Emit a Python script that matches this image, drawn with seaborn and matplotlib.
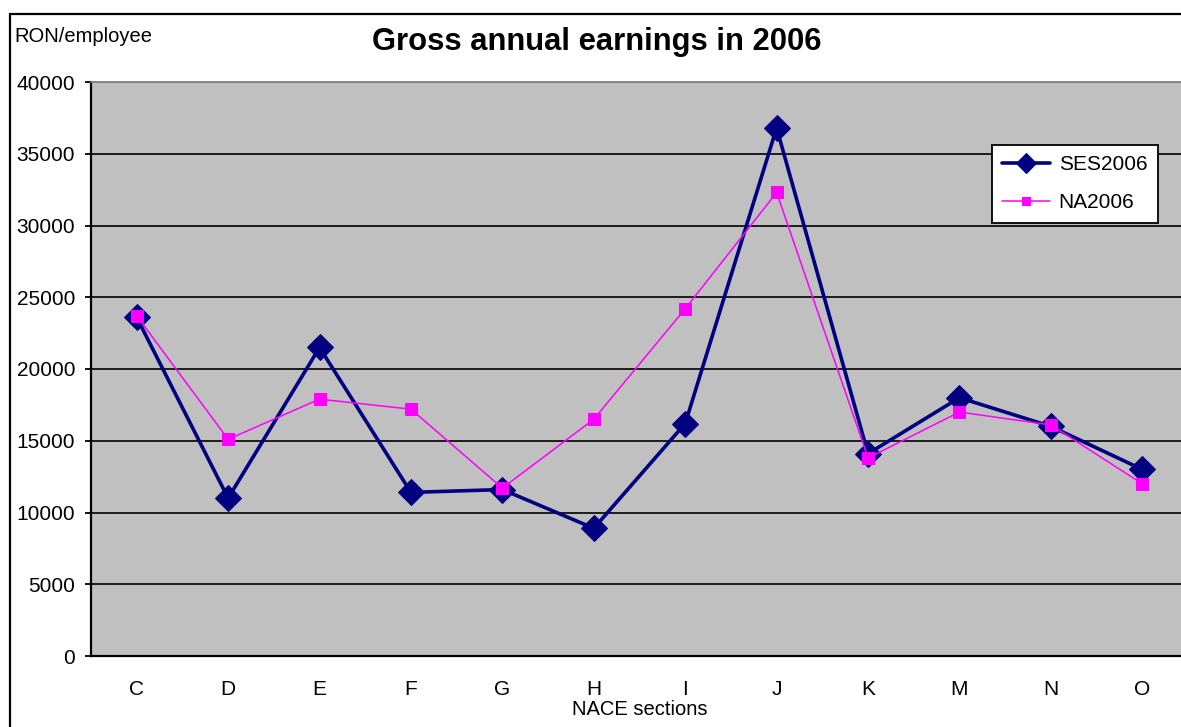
import pandas as pd
import matplotlib
matplotlib.use("Agg")
import matplotlib.pyplot as plt
import seaborn as sns
from matplotlib.patches import Rectangle

sections = ["C", "D", "E", "F", "G", "H", "I", "J", "K", "M", "N", "O"]
ses2006 = [23600, 11000, 21500, 11400, 11600, 8900, 16200, 36800, 14100, 18000, 16000, 13000]
na2006 = [23700, 15100, 17900, 17200, 11700, 16500, 24200, 32300, 13800, 17000, 16100, 12000]
y_ticks = [0, 5000, 10000, 15000, 20000, 25000, 30000, 35000, 40000]

sns.set_style("white")
plt.rcParams["font.family"] = ["Liberation Sans", "DejaVu Sans"]
plt.rcParams["text.color"] = "black"
plt.rcParams["xtick.color"] = "black"
plt.rcParams["ytick.color"] = "black"
plt.rcParams["axes.labelcolor"] = "black"

df = pd.DataFrame({"pos": range(len(sections)), "section": sections,
                   "SES2006": ses2006, "NA2006": na2006})

W, H = 1181, 727
fig = plt.figure(figsize=(W / 100, H / 100), dpi=100)
fig.patch.set_facecolor("white")

ax = fig.add_axes([91 / W, 1 - 656 / H, (1188 - 91) / W, (656 - 82) / H])
ax.set_facecolor("#C0C0C0")

sns.lineplot(data=df, x="pos", y="SES2006", ax=ax, color="#000080", linewidth=2.6,
             marker="D", markersize=13, markeredgecolor="#000080", sort=False,
             label="SES2006")
sns.lineplot(data=df, x="pos", y="NA2006", ax=ax, color="#FF00FF", linewidth=1.1,
             marker="s", markersize=8, markeredgecolor="#FF00FF", sort=False,
             label="NA2006")

ax.set_xlim(-0.5, len(sections) - 0.5)
ax.set_ylim(0, 40000)
ax.set_yticks(y_ticks)
ax.set_yticklabels([str(v) for v in y_ticks], fontsize=15)
ax.set_xticks(range(len(sections)))
ax.set_xticklabels(sections, fontsize=15)
ax.set_xticks([i - 0.5 for i in range(len(sections) + 1)], minor=True)
ax.tick_params(axis="x", which="major", length=0, pad=17)
ax.tick_params(axis="x", which="minor", length=4.5, width=1.3, direction="out", color="black")
ax.tick_params(axis="y", which="major", length=4.5, width=1.3, direction="out", color="black", pad=7, left=True)

ax.yaxis.grid(True, color="black", linewidth=1.2)
ax.set_axisbelow(True)
ax.get_ygridlines()[-1].set_color("#808080")

for side in ["left", "bottom"]:
    ax.spines[side].set_color("black")
    ax.spines[side].set_linewidth(1.6)
ax.spines["top"].set_color("#808080")
ax.spines["top"].set_linewidth(1.3)
ax.spines["right"].set_visible(False)

ax.set_ylabel("")
ax.set_xlabel("NACE sections", fontsize=14.5, labelpad=1)

leg = ax.legend(loc="upper left", bbox_to_anchor=((992 - 91) / (1188 - 91), 1 - (145 - 82) / (656 - 82)),
                borderaxespad=0, fontsize=15, frameon=True, fancybox=False, framealpha=1,
                edgecolor="black", handlelength=2.3, borderpad=0.5, labelspacing=0.9,
                handletextpad=0.4, markerscale=0.8)
leg.get_frame().set_linewidth(1.3)

fig.text(597 / W, 1 - 42 / H, "Gross annual earnings in 2006", ha="center", va="center",
         fontsize=22.3, fontweight="bold")
fig.text(14 / W, 1 - 36 / H, "RON/employee", ha="left", va="center", fontsize=14.5)

fig.add_artist(Rectangle((10 / W, -0.1), 1.2, 1 - 14 / H + 0.1, transform=fig.transFigure,
                         fill=False, edgecolor="black", linewidth=1.6))

fig.savefig("out.png", dpi=100)
